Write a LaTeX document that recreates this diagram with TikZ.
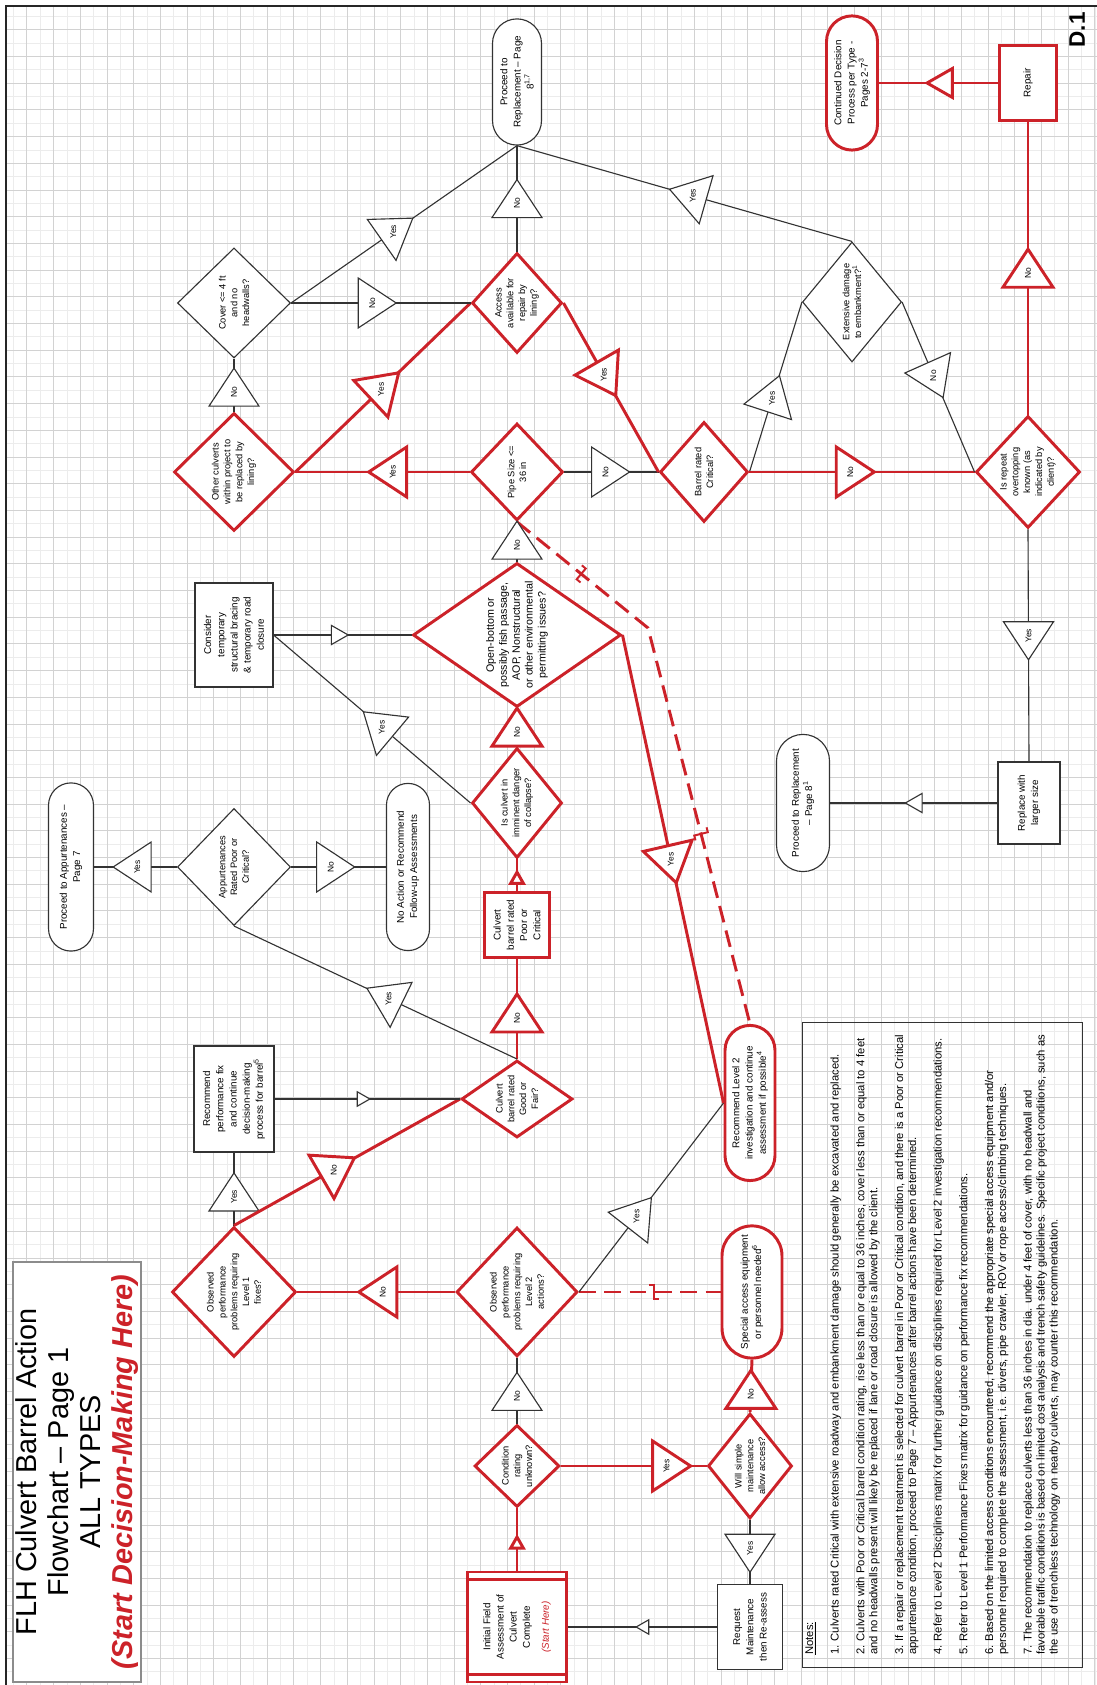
\documentclass[tikz,border=0pt]{standalone}
\usepackage{fontspec}
\setmainfont{Liberation Sans}
\usetikzlibrary{shapes.geometric,shapes.misc,calc}

\definecolor{flhred}{RGB}{204,34,41}
\newcommand{\px}{0.025cm}
\newcommand{\dfont}{\fontsize{6.6}{8.4}\selectfont}
\newcommand{\ofont}{\fontsize{7.6}{9.2}\selectfont}
\newcommand{\bfont}{\fontsize{7}{9.4}\selectfont}
\newcommand{\ffont}{\fontsize{6}{7}\selectfont}
\newcommand{\tfont}{\fontsize{20.5}{22.6}\selectfont}
\newcommand{\nfont}{\fontsize{8}{9.25}\selectfont}

\tikzset{
  wh/.style 2 args={minimum width=#1*\px, minimum height=#2*\px},
  blkline/.style={draw=black!80, line width=0.8pt},
  redline/.style={draw=flhred, line width=2.1pt},
  reddash/.style={redline, dash pattern=on 12pt off 6pt},
  dia/.style={diamond, fill=white, font=\dfont, align=center, inner sep=-4pt},
  blkdia/.style={dia, blkline},
  reddia/.style={dia, redline},
  flbox/.style={rectangle, fill=white, font=\bfont, align=center, inner sep=1pt},
  blkbox/.style={flbox, blkline},
  redbox/.style={flbox, redline},
  term/.style={rounded rectangle, fill=white, font=\bfont, align=center, inner sep=1pt},
  blkterm/.style={term, blkline},
  redterm/.style={term, redline},
  blkflag/.style={blkline, fill=white},
  redflag/.style={redline, fill=white},
  pics/flag/.style n args={3}{code={
    \draw[#3, rotate=#1] (19,0) -- (-19,25) -- (-19,-25) -- cycle;
    \node[font=\ffont, inner sep=0pt] (-txt) at (#1+180:5) {#2};
  }},
  pics/ahead/.style n args={3}{code={
    \draw[#3, rotate=#1, scale=#2] (7,0) -- (-7,8) -- (-7,-8) -- cycle;
  }},
  pics/jog/.style={code={
    \draw[redline, line width=1.4pt, rotate=#1] (-5,7) -- (0,7) -- (0,-7) -- (5,-7);
  }},
}

\begin{document}
\begin{tikzpicture}[x=0.025cm, y=0.025cm]
\useasboundingbox (0,0) rectangle (1097,1685);
% grid paper and frame
\draw[gray!15, line width=0.3pt, step=13.35] (6,0) grid (1097,1679);
\draw[gray!35, line width=0.4pt, step=26.7] (6,0) grid (1097,1679);
\draw[black!85, line width=1.6pt] (6,0) -- (6,1679) -- (1097,1679);

% the chart is laid out landscape and turned a quarter
\begin{scope}[rotate=90, transform shape]
% top row
\node[blkterm, wh={129}{49}] (proceedA) at (1603,-517) {Proceed to\\Replacement – Page\\8\textsuperscript{1,7}};
\node[redterm, wh={137}{51}] (contd) at (1602,-852) {Continued Decision\\Process per Type -\\Pages 2-7\textsuperscript{3}};
\node[redbox, wh={75}{57}] (repair) at (1602,-1028) {Repair};

\node[blkdia, wh={110}{113}, aspect=0.97] (cover) at (1382,-234) {Cover <= 4 ft\\and no\\headwalls?};
\node[reddia, wh={100}{90}, aspect=1.11] (access) at (1382,-517) {Access\\available for\\repair by\\lining?};
\node[blkdia, wh={120}{99}, aspect=1.21] (extensive) at (1383,-852) {Extensive damage\\to embankment?\textsuperscript{1}};

\node[reddia, wh={118}{120}, aspect=0.98] (others) at (1213,-234) {Other culverts\\within project to\\be replaced by\\lining?};
\node[reddia, wh={97}{92}, aspect=1.05] (pipe) at (1213,-517) {Pipe Size <=\\36 in};
\node[reddia, wh={100}{88}, aspect=1.14] (crit) at (1213,-704) {Barrel rated\\Critical?};
\node[reddia, wh={112}{104}, aspect=1.08] (overtop) at (1213,-1028) {Is repeat\\overtopping\\known (as\\indicated by\\client)?};

\node[blkbox, wh={104}{78}] (consider) at (1050,-234) {Consider\\temporary\\structural bracing\\\& temporary road\\closure};
\node[reddia, wh={144}{208}, aspect=0.69, font=\ofont, inner sep=-8pt] (openb) at (1050,-517) {Open-bottom or\\possibly fish passage,\\AOP, Nonstructural\\or other environmental\\permitting issues?};

\node[reddia, wh={110}{90}, aspect=1.22] (imminent) at (882,-517) {Is culvert in\\imminent danger\\of collapse?};
\node[blkterm, wh={140}{53}] (proceedB) at (882,-803) {Proceed to Replacement\\– Page 8\textsuperscript{1}};
\node[blkbox, wh={82}{62}] (replace) at (882,-1029) {Replace with\\larger size};

\node[blkterm, wh={171}{45}] (proceedApp) at (818,-71) {Proceed to Appurtenances –\\Page 7};
\node[blkdia, wh={117}{113}, aspect=1.04] (appurt) at (818,-234) {Appurtenances\\Rated Poor or\\Critical?};
\node[blkterm, wh={170}{43}] (noaction) at (818,-408) {No Action or Recommend\\Follow-up Assessments};
\node[redbox, wh={65}{65}] (poorcrit) at (760,-517) {Culvert\\barrel rated\\Poor or\\Critical};

\node[blkbox, wh={106}{80}] (recfix) at (586,-234) {Recommend\\performance fix\\and continue\\decision-making\\process for barrel\textsuperscript{5}};
\node[reddia, wh={77}{111}, aspect=0.69] (goodfair) at (586,-517) {Culvert\\barrel rated\\Good or\\Fair?};
\node[redterm, wh={158}{50}] (lvltwoterm) at (582,-750) {Recommend Level 2\\investigation and continue\\assessment if possible\textsuperscript{4}};

\node[reddia, wh={130}{124}, aspect=1.05] (lvlone) at (393,-234) {Observed\\performance\\problems requiring\\Level 1\\fixes?};
\node[reddia, wh={129}{121}, aspect=1.07] (lvltwo) at (393,-517) {Observed\\performance\\problems requiring\\Level 2\\actions?};
\node[redterm, wh={135}{60}] (special) at (393,-752) {Special access equipment\\or personnel needed\textsuperscript{6}};

\node[reddia, wh={82}{85}, aspect=0.96] (cond) at (219,-517) {Condition\\rating\\unknown?};
\node[reddia, wh={105}{84}, aspect=1.25] (simple) at (219,-750) {Will simple\\maintenance\\allow access?};

\node[redbox, wh={110}{99}] (start) at (58,-517) {Initial Field\\Assessment of\\Culvert\\Complete\\[4pt]\textcolor{flhred}{\itshape (Start Here)}};
\draw[redline] ($(start.north west)+(9,0)$) -- ($(start.south west)+(9,0)$);
\draw[redline] ($(start.north east)+(-9,0)$) -- ($(start.south east)+(-9,0)$);
\node[blkbox, wh={85}{65}] (request) at (58,-750) {Request\\Maintenance\\then Re-assess};

% title, notes, sheet number
\node[draw=black!45, line width=0.8pt, fill=white, wh={420}{128}, inner sep=0pt, font=\tfont, align=center] (title) at (213,-77)
  {FLH Culvert Barrel Action\\Flowchart – Page 1\\ALL TYPES\\\textcolor{flhred}{\bfseries\itshape (Start Decision-Making Here)}};
\node[draw=black!80, line width=0.7pt, wh={645}{280}] (notes) at (340,-942) {};
\node[anchor=north west, inner sep=0pt, font=\nfont, align=left] (notetext) at (30,-805) {\underline{Notes:}\\[9pt]
1. Culverts rated Critical with extensive roadway and embankment damage should generally be excavated and replaced.\\[9pt]
2. Culverts with Poor or Critical barrel condition rating, rise less than or equal to 36 inches, cover less than or equal to 4 feet\\
and no headwalls present will likely be replaced if lane or road closure is allowed by the client.\\[9pt]
3. If a repair or replacement treatment is selected for culvert barrel in Poor or Critical condition, and there is a Poor or Critical\\
appurtenance condition, proceed to Page 7 – Appurtenances after barrel actions have been determined.\\[9pt]
4. Refer to Level 2 Disciplines matrix for further guidance on disciplines required for Level 2 investigation recommendations.\\[9pt]
5. Refer to Level 1 Performance Fixes matrix for guidance on performance fix recommendations.\\[9pt]
6. Based on the limited access conditions encountered, recommend the appropriate special access equipment and/or\\
personnel required to complete the assessment, i.e. divers, pipe crawler, ROV or rope access/climbing techniques.\\[9pt]
7. The recommendation to replace culverts less than 36 inches in dia. under 4 feet of cover, with no headwall and\\
favorable traffic conditions is based on limited cost analysis and trench safety guidelines. Specific project conditions, such as\\
the use of trenchless technology on nearby culverts, may counter this recommendation.};
\node[font=\fontsize{16}{18}\selectfont\bfseries] (sheetno) at (1655,-1077) {D.1};

% connectors
\draw[redline] (start.east) -- (cond.west);
\pic (t1) at ($(start.east)!.45!(cond.west)$) {ahead={0}{0.8}{redflag}};
\draw[blkline] (cond.east) -- (lvltwo.west);
\pic (f1) at ($(cond.east)!.49!(lvltwo.west)$) {flag={0}{No}{blkflag}};
\draw[redline] (cond.south) -- (simple.north);
\pic (f2) at ($(cond.south)!.76!(simple.north)$) {flag={-90}{Yes}{redflag}};
\draw[redline] (simple.east) -- (special.west);
\pic (f3) at ($(simple.east)!.43!(special.west)$) {flag={0}{No}{redflag}};
\draw[blkline] (simple.west) -- (request.east);
\pic (f4) at ($(simple.west)!.52!(request.east)$) {flag={180}{Yes}{blkflag}};
\draw[blkline] (request.north) -- (start.south);
\pic (t2) at ($(request.north)!.5!(start.south)$) {ahead={90}{0.9}{blkflag}};

\draw[redline] (lvltwo.north) -- (lvlone.south);
\pic (f5) at ($(lvltwo.north)!.49!(lvlone.south)$) {flag={90}{No}{redflag}};
\draw[reddash] (lvltwo.south) -- (special.north);
\pic (j1) at ($(lvltwo.south)!.53!(special.north)$) {jog={-90}};
\draw[blkline] (lvltwo.south) -- (lvltwoterm.north);
\pic (f6) at ($(lvltwo.south)!.42!(lvltwoterm.north)$) {flag={-38}{Yes}{blkflag}};
\draw[blkline] (lvlone.east) -- (recfix.west);
\pic (f7) at ($(lvlone.east)!.46!(recfix.west)$) {flag={0}{Yes}{blkflag}};
\draw[redline] (lvlone.east) -- (goodfair.north);
\pic (f8) at ($(lvlone.east)!.46!(goodfair.north)$) {flag={-60}{No}{redflag}};
\draw[blkline] (recfix.south) -- (goodfair.north);
\pic (t3) at ($(recfix.south)!.48!(goodfair.north)$) {ahead={-90}{0.9}{blkflag}};

\draw[redline] (goodfair.east) -- (poorcrit.west);
\pic (f9) at ($(goodfair.east)!.46!(poorcrit.west)$) {flag={0}{No}{redflag}};
\draw[blkline] (goodfair.east) -- (appurt.west);
\pic (f10) at ($(goodfair.east)!.47!(appurt.west)$) {flag={64}{Yes}{blkflag}};
\draw[blkline] (appurt.north) -- (proceedApp.south);
\pic (f11) at ($(appurt.north)!.54!(proceedApp.south)$) {flag={90}{Yes}{blkflag}};
\draw[blkline] (appurt.south) -- (noaction.north);
\pic (f12) at ($(appurt.south)!.47!(noaction.north)$) {flag={-90}{No}{blkflag}};

\draw[redline] (poorcrit.east) -- (imminent.west);
\pic (t4) at ($(poorcrit.east)!.42!(imminent.west)$) {ahead={0}{0.8}{redflag}};
\draw[redline] (imminent.east) -- (openb.west);
\pic (f13) at ($(imminent.east)!.51!(openb.west)$) {flag={0}{No}{redflag}};
\draw[blkline] (imminent.north) -- (consider.south);
\pic (f14) at ($(imminent.north)!.47!(consider.south)$) {flag={50}{Yes}{blkflag}};
\draw[blkline] (consider.south) -- (openb.north);
\pic (t5) at ($(consider.south)!.48!(openb.north)$) {ahead={-90}{1.2}{blkflag}};

\coordinate (bend) at (1057,-648);
\draw[reddash] (pipe.west) -- (bend) -- (lvltwoterm.east);
\pic (j2) at ($(pipe.west)!.49!(bend)$) {jog={-130}};
\pic (j3) at ($(bend)!.52!(lvltwoterm.east)$) {jog={-166}};
\draw[blkline] (openb.east) -- (pipe.west);
\pic (f15) at ($(openb.east)!.54!(pipe.west)$) {flag={0}{No}{blkflag}};
\draw[redline] (openb.south) -- (lvltwoterm.north);
\pic (f16) at ($(openb.south)!.49!(lvltwoterm.north)$) {flag={-167}{Yes}{redflag}};

\draw[redline] (pipe.north) -- (others.south);
\pic (f17) at ($(pipe.north)!.47!(others.south)$) {flag={90}{Yes}{redflag}};
\draw[blkline] (pipe.south) -- (crit.north);
\pic (f18) at ($(pipe.south)!.49!(crit.north)$) {flag={-90}{No}{blkflag}};
\draw[blkline] (others.east) -- (cover.west);
\pic (f19) at ($(others.east)!.46!(cover.west)$) {flag={0}{No}{blkflag}};
\draw[redline] (others.south) -- (access.north);
\pic (f20) at ($(others.south)!.51!(access.north)$) {flag={-47}{Yes}{redflag}};
\draw[blkline] (cover.south) -- (access.north);
\pic (f21) at ($(cover.south)!.48!(access.north)$) {flag={-90}{No}{blkflag}};
\draw[blkline] (cover.south) -- (proceedA.west);
\pic (f22) at ($(cover.south)!.47!(proceedA.west)$) {flag={-55}{Yes}{blkflag}};
\draw[blkline] (access.east) -- (proceedA.west);
\pic (f23) at ($(access.east)!.5!(proceedA.west)$) {flag={0}{No}{blkflag}};
\draw[redline] (access.south) -- (crit.north);
\pic (f24) at ($(access.south)!.45!(crit.north)$) {flag={-150}{Yes}{redflag}};

\draw[blkline] (crit.south) -- (extensive.north);
\pic (f25) at ($(crit.south)!.46!(extensive.north)$) {flag={-18}{Yes}{blkflag}};
\draw[redline] (crit.south) -- (overtop.north);
\pic (f26) at ($(crit.south)!.47!(overtop.north)$) {flag={-90}{No}{redflag}};
\draw[blkline] (extensive.east) -- (proceedA.west);
\pic (f27) at ($(extensive.east)!.49!(proceedA.west)$) {flag={74}{Yes}{blkflag}};
\draw[blkline] (extensive.south) -- (overtop.north);
\pic (f28) at ($(extensive.south)!.46!(overtop.north)$) {flag={-156}{No}{blkflag}};
\draw[redline] (overtop.east) -- (repair.west);
\pic (f29) at ($(overtop.east)!.5!(repair.west)$) {flag={0}{No}{redflag}};
\draw[blkline] (overtop.west) -- (replace.east);
\pic (f30) at ($(overtop.west)!.48!(replace.east)$) {flag={180}{Yes}{blkflag}};
\draw[blkline] (replace.north) -- (proceedB.south);
\pic (t6) at ($(replace.north)!.5!(proceedB.south)$) {ahead={90}{1.2}{blkflag}};
\draw[redline] (repair.north) -- (contd.south);
\pic (t7) at ($(repair.north)!.49!(contd.south)$) {ahead={90}{1.8}{redflag}};
\end{scope}
\end{tikzpicture}
\end{document}
